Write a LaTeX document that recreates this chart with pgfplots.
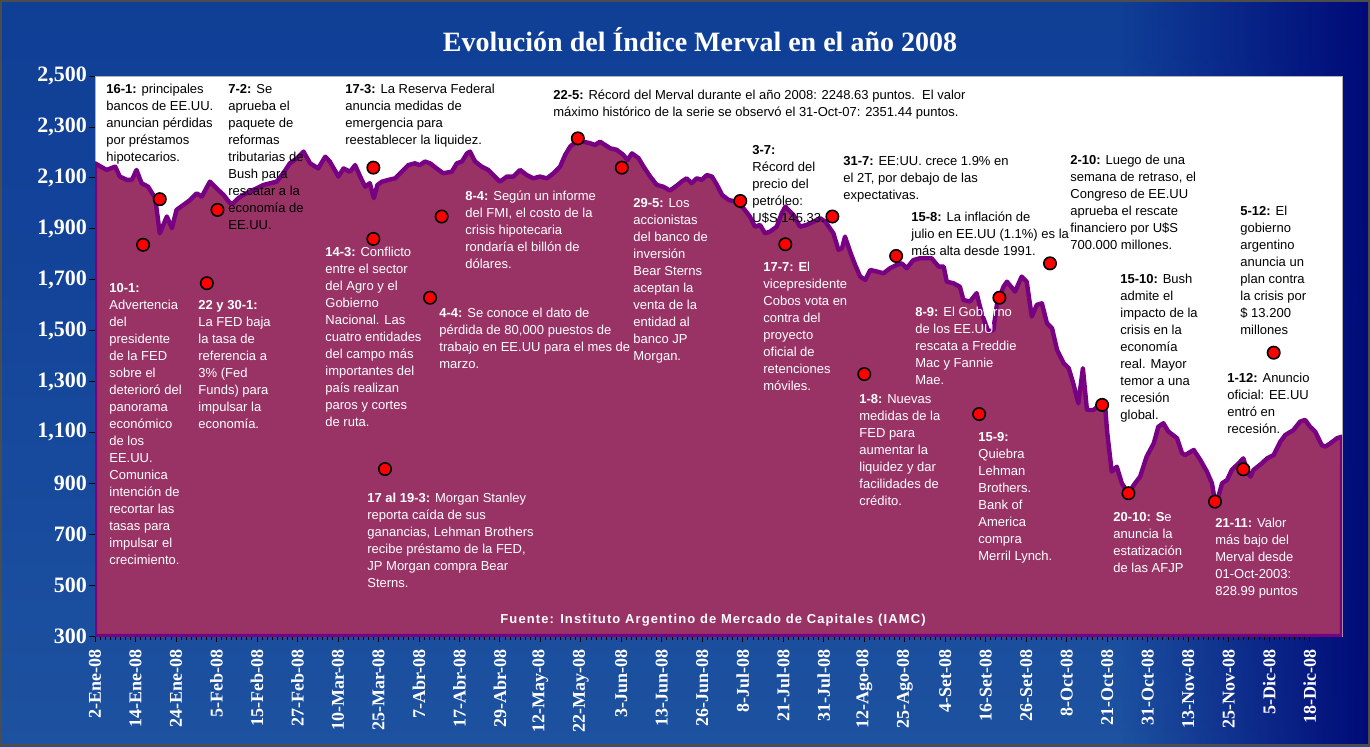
\documentclass[border=0pt]{standalone}
\usepackage{fontspec}
\setmainfont{Liberation Sans}
\newfontfamily\tnr{Liberation Serif}
\newfontfamily\spaced[LetterSpace=8.5]{Liberation Sans}
\usepackage{pgfplots}
\usetikzlibrary{fadings}
\pgfplotsset{compat=1.18}
\definecolor{areafill}{RGB}{153,51,102}
\definecolor{arealine}{RGB}{120,0,130}
\definecolor{navybg}{rgb}{0,0.04,0.47}
\tikzfading[name=myfade, left color=transparent!100, right color=transparent!0]
\pgfdeclareverticalshading{bgv}{100bp}{rgb(0bp)=(0,0.06,0.48); rgb(3bp)=(0.02,0.12,0.52); rgb(8bp)=(0.1,0.28,0.6); rgb(12bp)=(0.15,0.39,0.66); rgb(20bp)=(0.12,0.33,0.63); rgb(60bp)=(0.07,0.26,0.6); rgb(100bp)=(0.05,0.22,0.57)}
\newcommand{\ann}[4]{\node[anchor=north west, inner sep=0pt, align=left, text=#3, font=\fontsize{6.5}{8.5}\selectfont] at ({#1},{#2-5.5}) {\rule{0pt}{5pt}#4};}
\begin{document}
\begin{tikzpicture}
\path[use as bounding box] (0,0) rectangle (685pt,373pt);
\shade[shading=bgv] (0,0) rectangle (685pt,373pt);
\fill[navybg, path fading=myfade] (560pt,0) rectangle (685pt,373pt);
\begin{scope}[x=0.5pt,y=-0.5pt,yshift=373pt]
\draw[black!70, line width=0.8pt] (1,1) rectangle (1369,745);
\node[font=\tnr\bfseries\fontsize{14}{14}\selectfont, text=white] at (700,40) {Evolución del Índice Merval en el año 2008};
\end{scope}
\begin{axis}[at={(47.5pt,55pt)}, anchor=south west, scale only axis,
  width=623.5pt, height=280pt,
  xmin=0, xmax=246.4, ymin=300, ymax=2500,
  ytick={300,500,...,2500},
  /pgf/number format/assume math mode=true,
  /pgf/number format/1000 sep={,},
  yticklabel style={font=\tnr\bfseries\fontsize{11}{11}\selectfont, text=white, xshift=2.5pt},
  xtick={0,8,...,240},
  xticklabels={2-Ene-08,14-Ene-08,24-Ene-08,5-Feb-08,15-Feb-08,27-Feb-08,10-Mar-08,25-Mar-08,7-Abr-08,17-Abr-08,29-Abr-08,12-May-08,22-May-08,3-Jun-08,13-Jun-08,26-Jun-08,8-Jul-08,21-Jul-08,31-Jul-08,12-Ago-08,25-Ago-08,4-Set-08,16-Set-08,26-Set-08,8-Oct-08,21-Oct-08,31-Oct-08,13-Nov-08,25-Nov-08,5-Dic-08,18-Dic-08},
  xticklabel style={rotate=90, anchor=east, font=\tnr\bfseries\fontsize{9}{9}\selectfont, text=white},
  minor x tick num=7,
  tick align=outside, xtick pos=left, ytick pos=left,
  major tick length=3pt, minor tick length=2pt,
  tick style={black, line width=0.4pt},
  axis line style={draw=gray!60},
  axis background/.style={fill=white},
]
\addplot[fill=areafill, draw=arealine, line width=2.2pt, line join=round] table {
x y
0 300
0 2157
2.3 2131
4.0 2144
4.9 2105
6.3 2092
7.3 2092
8.2 2131
9.2 2079
10.5 2065
11.9 2020
12.8 1882
14.2 1948
15.2 1902
16.1 1974
17.5 1994
18.8 2013
20.1 2039
21.1 2026
22.7 2085
24.0 2059
25.4 2033
26.7 2000
27.3 2000
28.3 2020
29.3 2033
30.6 2046
33.3 2072
35.9 2085
37.2 2118
38.5 2157
39.9 2177
41.2 2203
42.5 2157
44.1 2137
45.5 2183
46.4 2164
48.1 2105
49.1 2137
50.4 2124
51.4 2150
52.4 2105
53.4 2065
54.3 2079
55.1 2020
55.8 2072
56.7 2085
58.0 2092
59.3 2098
60.6 2124
61.9 2150
63.2 2157
64.2 2150
65.2 2164
66.2 2157
67.5 2137
68.8 2118
70.5 2124
71.5 2157
72.5 2164
73.5 2196
74.1 2203
75.1 2164
76.4 2144
77.7 2131
78.7 2111
80.0 2085
81.4 2105
82.7 2105
84.0 2131
85.3 2111
86.6 2098
87.9 2105
89.3 2098
90.6 2118
91.9 2144
92.9 2190
93.9 2223
95.5 2249
96.5 2242
97.8 2236
98.8 2229
99.8 2242
100.8 2229
101.8 2216
103.1 2210
104.4 2190
105.2 2170
106.1 2196
107.4 2177
108.4 2144
109.7 2105
111.0 2072
112.3 2065
113.6 2050
115.0 2070
115.9 2085
116.9 2098
117.9 2079
118.9 2098
119.9 2092
120.9 2111
121.9 2105
122.9 2072
123.9 2033
125.2 2013
126.5 2007
128.1 1981
129.4 1948
130.4 1908
131.4 1915
132.4 1882
133.4 1889
134.7 1908
135.7 1961
136.4 1987
137.0 1974
138.0 1954
139.3 1908
140.6 1915
142.0 1928
143.3 1941
144.3 1928
145.9 1882
146.9 1817
147.6 1823
148.2 1869
149.2 1810
150.2 1758
151.2 1712
152.2 1699
153.2 1738
154.5 1732
155.8 1725
157.1 1745
158.4 1758
159.4 1764
160.4 1745
161.7 1777
163.0 1784
165.3 1784
166.7 1751
167.7 1751
168.3 1692
169.6 1686
170.9 1672
171.6 1620
172.9 1614
174.2 1647
175.2 1568
176.5 1496
177.5 1502
178.2 1601
179.5 1672
180.2 1692
181.8 1653
183.1 1712
184.1 1692
185.1 1555
186.1 1601
187.1 1607
188.1 1529
189.1 1509
190.1 1424
191.4 1372
192.4 1352
193.3 1293
194.3 1214
195.2 1352
196.0 1188
197.3 1188
198.6 1208
199.6 1201
200.0 1100
200.9 946
201.9 965
202.9 900
204.2 861
205.5 900
206.5 926
207.8 1005
209.2 1057
210.1 1122
211.1 1136
212.1 1103
213.8 1077
214.8 1018
215.4 1011
217.1 1031
218.4 992
219.7 946
220.7 900
221.3 829
222.0 850
222.7 900
223.7 913
224.6 952
226.0 979
226.9 998
227.6 952
228.3 926
228.9 952
230.6 979
231.6 998
232.9 1011
234.2 1063
235.2 1090
236.8 1109
238.1 1142
239.1 1149
240.1 1122
241.1 1103
242.4 1050
243.1 1044
244.1 1057
245.4 1077
246.4 1083
246.4 300
} -- cycle;
\addplot[only marks, mark=*, mark size=3.1pt, mark options={fill=red, draw=black, line width=0.8pt}] coordinates {
(12.8,2016) (9.5,1837) (22.1,1686) (24.2,1974) (55.0,2140) (55.0,1860)
(57.3,956) (66.2,1629) (68.5,1948) (95.4,2255) (104.1,2140) (127.5,2009)
(136.4,1839) (145.7,1948) (158.3,1793) (152.0,1329) (178.7,1629) (174.7,1172)
(188.7,1764) (199.0,1208) (204.2,861) (221.3,828) (226.9,955) (232.9,1413)
};
\end{axis}
\begin{scope}[x=0.5pt,y=-0.5pt,yshift=373pt]
\ann{106}{89}{black}{\textbf{16-1:} principales\\bancos de EE.UU.\\anuncian pérdidas\\por préstamos\\hipotecarios.}
\ann{228}{89}{black}{\textbf{7-2:} Se\\aprueba el\\paquete de\\reformas\\tributarias de\\Bush para\\rescatar a la\\economía de\\EE.UU.}
\ann{345}{89}{black}{\textbf{17-3:} La Reserva Federal\\anuncia medidas de\\emergencia para\\reestablecer la liquidez.}
\ann{553}{95}{black}{\textbf{22-5:} Récord del Merval durante el año 2008: 2248.63 puntos.\ \ El valor\\máximo histórico de la serie se observó el 31-Oct-07: 2351.44 puntos.}
\ann{752}{150}{black}{\textbf{3-7:}\\Récord del\\precio del\\petróleo:\\U\$S 145.33.}
\ann{843}{161}{black}{\textbf{31-7:} EE:UU. crece 1.9\% en\\el 2T, por debajo de las\\expectativas.}
\ann{911}{217}{black}{\textbf{15-8:} La inflación de\\julio en EE.UU (1.1\%) es la\\más alta desde 1991.}
\ann{1070}{160}{black}{\textbf{2-10:} Luego de una\\semana de retraso, el\\Congreso de EE.UU\\aprueba el rescate\\financiero por U\$S\\700.000 millones.}
\ann{1240}{211}{black}{\textbf{5-12:} El\\gobierno\\argentino\\anuncia un\\plan contra\\la crisis por\\\$ 13.200\\millones}
\ann{1120}{279}{black}{\textbf{15-10:} Bush\\admite el\\impacto de la\\crisis en la\\economía\\real. Mayor\\temor a una\\recesión\\global.}
\ann{1227}{378}{black}{\textbf{1-12:} Anuncio\\oficial: EE.UU\\entró en\\recesión.}
\ann{1215}{523}{white}{\textbf{21-11:} Valor\\más bajo del\\Merval desde\\01-Oct-2003:\\828.99 puntos}
\ann{1113}{517}{white}{\textbf{20-10: S}e\\anuncia la\\estatización\\de las AFJP}
\ann{978}{437}{white}{\textbf{15-9:}\\Quiebra\\Lehman\\Brothers.\\Bank of\\America\\compra\\Merril Lynch.}
\ann{915}{312}{white}{\textbf{8-9:} El Gobierno\\de los EE.UU\\rescata a Freddie\\Mac y Fannie\\Mae.}
\ann{859}{399}{white}{\textbf{1-8:} Nuevas\\medidas de la\\FED para\\aumentar la\\liquidez y dar\\facilidades de\\crédito.}
\ann{763}{267}{white}{\textbf{17-7: E}l\\vicepresidente\\Cobos vota en\\contra del\\proyecto\\oficial de\\retenciones\\móviles.}
\ann{633}{203}{white}{\textbf{29-5:} Los\\accionistas\\del banco de\\inversión\\Bear Sterns\\aceptan la\\venta de la\\entidad al\\banco JP\\Morgan.}
\ann{465}{196}{white}{\textbf{8-4:} Según un informe\\del FMI, el costo de la\\crisis hipotecaria\\rondaría el billón de\\dólares.}
\ann{439}{313}{white}{\textbf{4-4:} Se conoce el dato de\\pérdida de 80,000 puestos de\\trabajo en EE.UU para el mes de\\marzo.}
\ann{367}{498}{white}{\textbf{17 al 19-3:} Morgan Stanley\\reporta caída de sus\\ganancias, Lehman Brothers\\recibe préstamo de la FED,\\JP Morgan compra Bear\\Sterns.}
\ann{325}{252}{white}{\textbf{14-3:} Conflicto\\entre el sector\\del Agro y el\\Gobierno\\Nacional. Las\\cuatro entidades\\del campo más\\importantes del\\país realizan\\paros y cortes\\de ruta.}
\ann{198}{305}{white}{\textbf{22 y 30-1:}\\La FED baja\\la tasa de\\referencia a\\3\% (Fed\\Funds) para\\impulsar la\\economía.}
\ann{109}{288}{white}{\textbf{10-1:}\\Advertencia\\del\\presidente\\de la FED\\sobre el\\deterioró del\\panorama\\económico\\de los\\EE.UU.\\Comunica\\intención de\\recortar las\\tasas para\\impulsar el\\crecimiento.}
\node[font=\spaced\bfseries\fontsize{6.5}{8}\selectfont, text=white] at (713,620) {Fuente: Instituto Argentino de Mercado de Capitales (IAMC)};
\end{scope}
\end{tikzpicture}
\end{document}
